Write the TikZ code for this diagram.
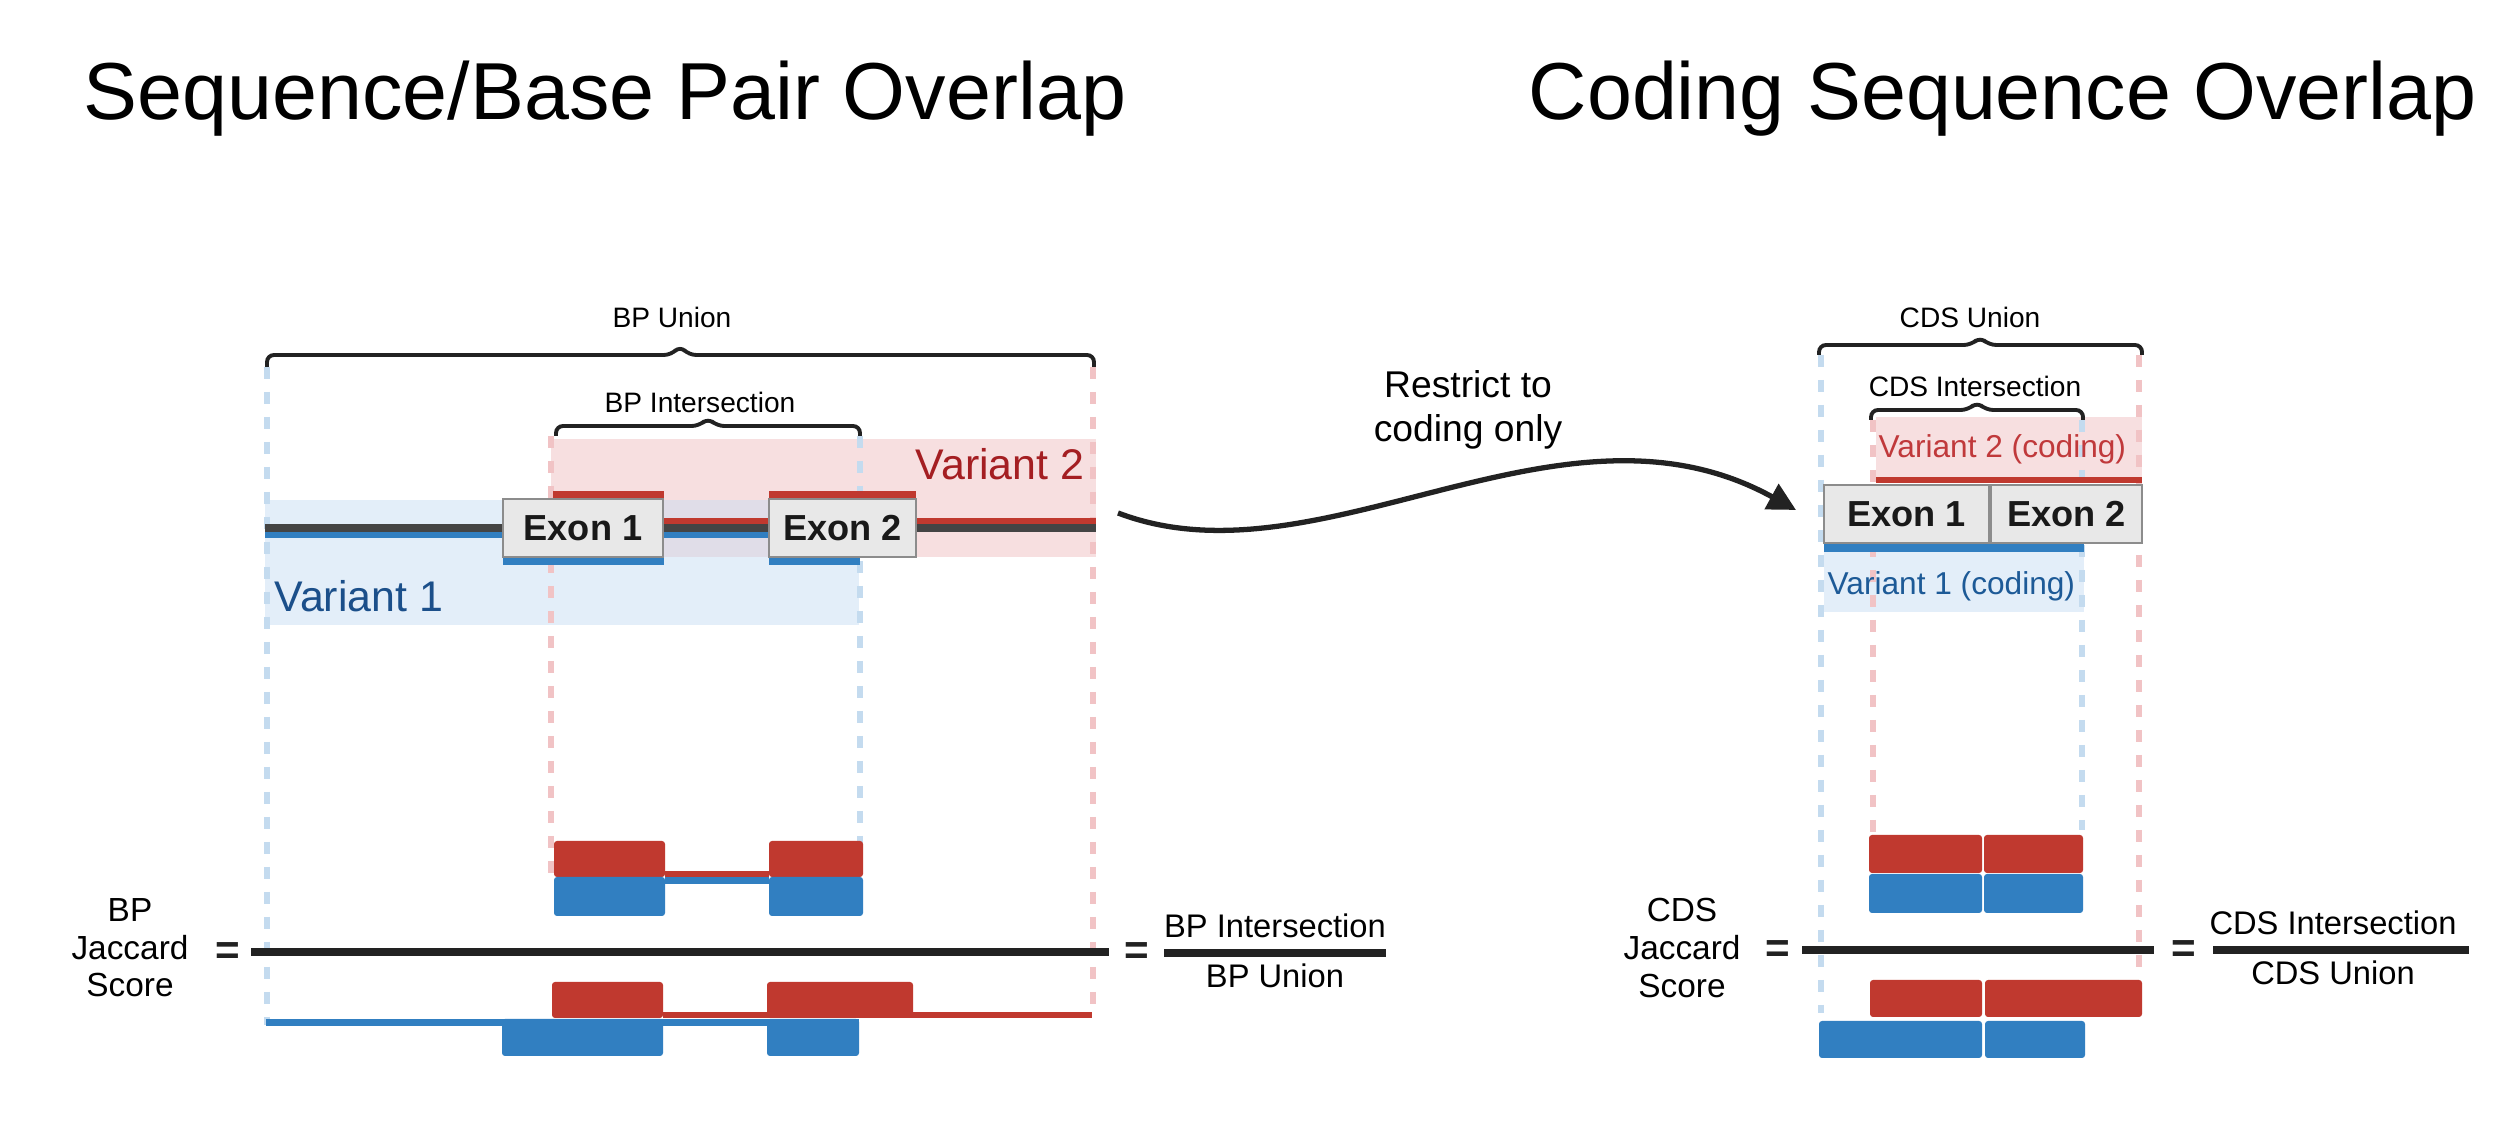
\documentclass[tikz,border=0pt]{standalone}
\usepackage{fontspec}
\setmainfont{Liberation Sans}
\usetikzlibrary{positioning}
\usetikzlibrary{arrows.meta}
\definecolor{bred}{HTML}{C0392F}
\definecolor{bblue}{HTML}{317FC1}
\definecolor{pinkbg}{HTML}{F7DFE0}
\definecolor{bluebg}{HTML}{E3EEF9}
\definecolor{mixbg}{HTML}{E0DDE8}
\definecolor{genegray}{HTML}{444444}
\definecolor{exonfill}{HTML}{E8E8E8}
\definecolor{exonline}{HTML}{8C8C8C}
\definecolor{dashblue}{HTML}{C4DBEF}
\definecolor{dashpink}{HTML}{F1C3C5}
\definecolor{vtwotext}{HTML}{A41E22}
\definecolor{vonetext}{HTML}{1B4F8A}
\definecolor{vtwocod}{HTML}{C0393B}
\definecolor{vonecod}{HTML}{1D5A97}
\definecolor{inkblack}{HTML}{222222}
\tikzset{
  exonbox/.style={draw=exonline,fill=exonfill,line width=0.6pt,inner sep=0pt,minimum height=0.58cm,font=\fontsize{10.3}{12}\selectfont\bfseries,text=black!90},
  redblock/.style={fill=bred,rounded corners=0.03cm},
  blueblock/.style={fill=bblue,rounded corners=0.03cm},
  bluedash/.style={dashblue,line width=0.06cm,dash pattern=on 0.12cm off 0.13cm},
  pinkdash/.style={dashpink,line width=0.06cm,dash pattern=on 0.12cm off 0.13cm},
  bracket/.style={inkblack,line width=1.1pt,rounded corners=0.07cm},
  bracelbl/.style={font=\fontsize{8}{9.6}\selectfont,anchor=base,inner sep=0pt},
  fraclbl/.style={font=\fontsize{9.3}{11}\selectfont,inner sep=0pt},
  eqsign/.style={font=\fontsize{12}{14}\selectfont\bfseries,inner sep=0pt,text=inkblack},
  jaclbl/.style={font=\fontsize{9.5}{10.7}\selectfont,align=center,inner sep=0pt},
  fracbar/.style={inkblack,line width=0.08cm},
  titlelbl/.style={font=\fontsize{23}{27}\selectfont,anchor=base west,inner sep=0pt}
}
\begin{document}
\begin{tikzpicture}
\fill[white] (0,0) rectangle (25.06,11.44);
\useasboundingbox (0,0) rectangle (25.06,11.44);
\node[titlelbl] (bptitle) at (0.83,10.24) {Sequence/Base Pair Overlap};
\node[titlelbl] (cdstitle) at (15.28,10.24) {Coding Sequence Overlap};

\fill[bluebg] (2.65,6.44) rectangle (8.59,5.19);
\fill[pinkbg] (5.51,7.05) rectangle (10.96,5.87);
\fill[mixbg] (5.51,6.44) rectangle (8.59,5.87);
\fill[pinkbg] (18.76,7.27) rectangle (21.42,6.67);
\fill[bluebg] (18.24,5.92) rectangle (20.84,5.32);

\draw[bluedash] (2.67,7.77) -- (2.67,1.19);
\draw[pinkdash] (5.51,7.08) -- (5.51,2.69);
\draw[bluedash] (8.60,7.08) -- (8.60,2.66);
\draw[pinkdash] (10.93,7.77) -- (10.93,1.29);
\draw[bluedash] (18.21,7.89) -- (18.21,1.31);
\draw[pinkdash] (18.73,7.24) -- (18.73,3.11);
\draw[bluedash] (20.82,7.24) -- (20.82,3.14);
\draw[pinkdash] (21.39,7.89) -- (21.39,1.76);

\fill[bred] (5.51,6.26) rectangle (10.96,6.20);
\fill[genegray] (2.65,6.20) rectangle (10.96,6.12);
\fill[bblue] (2.65,6.12) rectangle (8.59,6.06);
\fill[bred] (5.53,6.53) rectangle (6.64,6.46);
\fill[bred] (7.69,6.53) rectangle (9.16,6.46);
\fill[bblue] (5.03,5.87) rectangle (6.64,5.79);
\fill[bblue] (7.69,5.87) rectangle (8.60,5.79);
\node[exonbox,minimum width=1.60cm] (exonA) at (5.83,6.16) {Exon 1};
\node[exonbox,minimum width=1.47cm] (exonB) at (8.425,6.16) {Exon 2};

\fill[bred] (18.76,6.67) rectangle (21.42,6.61);
\fill[bblue] (18.24,6.00) rectangle (20.84,5.92);
\node[exonbox,minimum width=1.65cm] (exonC) at (19.065,6.30) {Exon 1};
\node[exonbox,minimum width=1.51cm] (exonD) at (20.665,6.30) {Exon 2};

\node[font=\fontsize{12.2}{14}\selectfont,text=vtwotext,anchor=base east,inner sep=0pt] (vartwo) at (10.85,6.64) {Variant 2};
\node[font=\fontsize{12.2}{14}\selectfont,text=vonetext,anchor=base west,inner sep=0pt] (varone) at (2.74,5.32) {Variant 1};
\node[font=\fontsize{9}{11}\selectfont,text=vtwocod,anchor=base west,inner sep=0pt] (vartwocod) at (18.78,6.86) {Variant 2 (coding)};
\node[font=\fontsize{9}{11}\selectfont,text=vonecod,anchor=base west,inner sep=0pt] (varonecod) at (18.27,5.49) {Variant 1 (coding)};

\draw[bracket] (2.67,7.77) -- (2.67,7.89) -- (6.71,7.89) -- (6.80,7.98) -- (6.89,7.89) -- (10.94,7.89) -- (10.94,7.77);
\node[bracelbl] (bpunion) at (6.72,8.16) {BP Union};
\draw[bracket] (5.56,7.08) -- (5.56,7.18) -- (6.99,7.18) -- (7.08,7.26) -- (7.17,7.18) -- (8.60,7.18) -- (8.60,7.08);
\node[bracelbl] (bpinter) at (7.00,7.31) {BP Intersection};
\draw[bracket] (18.19,7.89) -- (18.19,7.99) -- (19.71,7.99) -- (19.80,8.07) -- (19.89,7.99) -- (21.42,7.99) -- (21.42,7.89);
\node[bracelbl] (cdsunion) at (19.70,8.16) {CDS Union};
\draw[bracket] (18.71,7.24) -- (18.71,7.34) -- (19.68,7.34) -- (19.77,7.42) -- (19.86,7.34) -- (20.83,7.34) -- (20.83,7.24);
\node[bracelbl] (cdsinter) at (19.75,7.47) {CDS Intersection};

\coordinate (bendA) at (11.18,6.31);
\coordinate (bendB) at (17.96,6.34);
\draw[inkblack,line width=1.5pt,-{Triangle[length=0.28cm,width=0.28cm]}] (bendA) .. controls (13.20,5.54) and (15.60,7.64) .. (bendB);
\node[font=\fontsize{10.6}{12.3}\selectfont,align=center] (restrict) at (14.68,7.34) {Restrict to\\coding only};

\fill[redblock] (5.54,3.03) rectangle (6.65,2.67);
\fill[redblock] (7.69,3.03) rectangle (8.63,2.67);
\fill[bred] (6.65,2.73) rectangle (7.69,2.67);
\fill[blueblock] (5.54,2.67) rectangle (6.65,2.28);
\fill[blueblock] (7.69,2.67) rectangle (8.63,2.28);
\fill[bblue] (6.65,2.67) rectangle (7.69,2.60);
\draw[fracbar] (2.51,1.92) -- (11.09,1.92);
\fill[bred] (6.63,1.32) rectangle (10.92,1.26);
\fill[redblock] (5.52,1.62) rectangle (6.63,1.26);
\fill[redblock] (7.67,1.62) rectangle (9.13,1.26);
\fill[bblue] (2.66,1.25) rectangle (8.59,1.18);
\fill[blueblock] (5.02,1.25) rectangle (6.63,0.88);
\fill[blueblock] (7.67,1.25) rectangle (8.59,0.88);

\node[jaclbl] (bpjac) at (1.30,1.96) {BP\\Jaccard\\Score};
\node[eqsign] (bpeqA) at (2.28,1.90) {=};
\node[eqsign] (bpeqB) at (11.37,1.90) {=};
\draw[fracbar] (11.64,1.91) -- (13.86,1.91);
\coordinate (bpbar) at (12.75,1.91);
\node[fraclbl,above=0.14cm of bpbar] (bpnum) {BP Intersection};
\node[fraclbl,below=0.10cm of bpbar] (bpden) {BP Union};

\fill[redblock] (18.69,3.09) rectangle (19.82,2.71);
\fill[redblock] (19.84,3.09) rectangle (20.83,2.71);
\fill[blueblock] (18.69,2.70) rectangle (19.82,2.31);
\fill[blueblock] (19.84,2.70) rectangle (20.83,2.31);
\draw[fracbar] (18.02,1.94) -- (21.54,1.94);
\fill[redblock] (18.70,1.64) rectangle (19.82,1.27);
\fill[redblock] (19.85,1.64) rectangle (21.42,1.27);
\fill[blueblock] (18.19,1.23) rectangle (19.82,0.86);
\fill[blueblock] (19.85,1.23) rectangle (20.85,0.86);

\node[jaclbl] (cdsjac) at (16.82,1.96) {CDS\\Jaccard\\Score};
\node[eqsign] (cdseqA) at (17.78,1.92) {=};
\node[eqsign] (cdseqB) at (21.84,1.92) {=};
\draw[fracbar] (22.13,1.94) -- (24.69,1.94);
\coordinate (cdsbar) at (23.33,1.94);
\node[fraclbl,above=0.14cm of cdsbar] (cdsnum) {CDS Intersection};
\node[fraclbl,below=0.10cm of cdsbar] (cdsden) {CDS Union};
\end{tikzpicture}
\end{document}
